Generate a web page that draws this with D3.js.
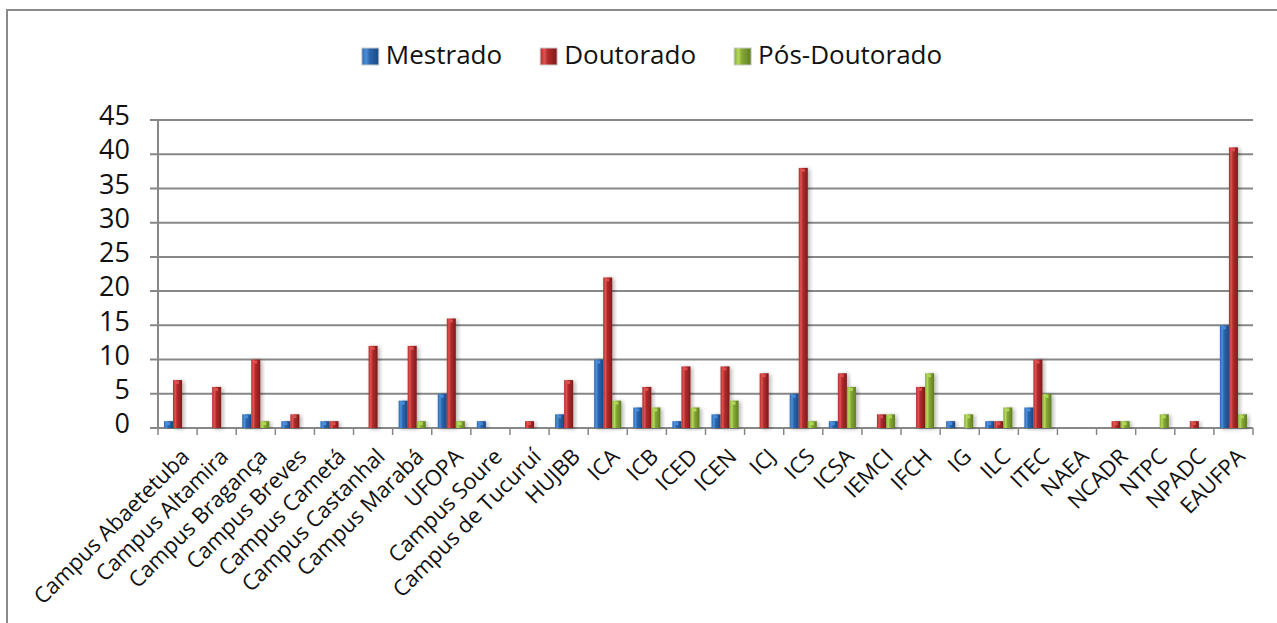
<!DOCTYPE html>
<html>
<head>
<meta charset="utf-8">
<script src="https://cdn.jsdelivr.net/npm/d3@7"></script>
<style>
  body { margin: 0; background: #fff; }
  svg { display: block; font-family: "Open Sans", sans-serif; }
</style>
</head>
<body>
<svg id="chart" width="1277" height="623"></svg>
<script>
// data
var categories = ["Campus Abaetetuba", "Campus Altamira", "Campus Bragança", "Campus Breves",
    "Campus Cametá", "Campus Castanhal", "Campus Marabá", "UFOPA", "Campus Soure",
    "Campus de Tucuruí", "HUJBB", "ICA", "ICB", "ICED", "ICEN", "ICJ", "ICS", "ICSA",
    "IEMCI", "IFCH", "IG", "ILC", "ITEC", "NAEA", "NCADR", "NTPC", "NPADC", "EAUFPA"];
var seriesNames = ["Mestrado", "Doutorado", "Pós-Doutorado"];
var mestrado     = [1, 0, 2, 1, 1, 0, 4, 5, 1, 0, 2, 10, 3, 1, 2, 0, 5, 1, 0, 0, 1, 1, 3, 0, 0, 0, 0, 15];
var doutorado    = [7, 6, 10, 2, 1, 12, 12, 16, 0, 1, 7, 22, 6, 9, 9, 8, 38, 8, 2, 6, 0, 1, 10, 0, 1, 0, 1, 41];
var posDoutorado = [0, 0, 1, 0, 0, 0, 1, 1, 0, 0, 0, 4, 3, 3, 4, 0, 1, 6, 2, 8, 2, 3, 5, 0, 1, 2, 0, 2];
var yTicks = [0, 5, 10, 15, 20, 25, 30, 35, 40, 45];

var seriesValues = [mestrado, doutorado, posDoutorado];
// colours: [dark edge, main, light]
var palette = [
    ["#1c4a84", "#2c66ad", "#4d8fdc"],
    ["#7f1b1b", "#b02c2c", "#e05252"],
    ["#5f7d22", "#86a938", "#b6d95a"]
];

var svg = d3.select('#chart');
var plotLeft = 158, plotRight = 1253, plotTop = 120, plotBottom = 428;

// outer frame (runs off the right and bottom edges)
svg.append('path')
    .attr('d', 'M7,640 L7,10 L1290,10')
    .attr('fill', 'none')
    .attr('stroke', '#8a8a8a')
    .attr('stroke-width', 2);

var defs = svg.append('defs');
var shadow = defs.append('filter').attr('id', 'shadow')
    .attr('x', '-50%').attr('y', '-10%').attr('width', '200%').attr('height', '120%');
shadow.append('feDropShadow')
    .attr('dx', 2).attr('dy', 1).attr('stdDeviation', 2)
    .attr('flood-color', '#000').attr('flood-opacity', 0.3);

palette.forEach(function(c, i) {
    var g = defs.append('linearGradient').attr('id', 'grad' + i)
        .attr('x1', '0%').attr('x2', '100%').attr('y1', '0%').attr('y2', '0%');
    g.append('stop').attr('offset', '0%').attr('stop-color', c[1]);
    g.append('stop').attr('offset', '25%').attr('stop-color', c[2]);
    g.append('stop').attr('offset', '45%').attr('stop-color', c[1]);
    g.append('stop').attr('offset', '100%').attr('stop-color', c[0]);
});

var x0 = d3.scaleBand()
    .domain(categories)
    .range([plotLeft, plotRight])
    .padding(0);

var x1 = d3.scaleBand()
    .domain(d3.range(seriesNames.length))
    .range([6, x0.bandwidth() - 6])
    .padding(0);

var y = d3.scaleLinear()
    .domain([0, 45])
    .range([plotBottom, plotTop]);

// gridlines and y labels
var yAxis = svg.append('g').attr('class', 'y-axis');
yAxis.selectAll('line.grid')
    .data(yTicks)
    .enter()
    .append('line')
    .attr('class', 'grid')
    .attr('x1', plotLeft - 8)
    .attr('x2', plotRight)
    .attr('y1', function(d) { return y(d); })
    .attr('y2', function(d) { return y(d); })
    .attr('stroke', '#878787')
    .attr('stroke-width', 2);

yAxis.append('line')
    .attr('x1', plotLeft).attr('x2', plotLeft)
    .attr('y1', plotTop).attr('y2', plotBottom)
    .attr('stroke', '#878787')
    .attr('stroke-width', 2);

yAxis.selectAll('text')
    .data(yTicks)
    .enter()
    .append('text')
    .attr('x', 130)
    .attr('y', function(d) { return y(d) - 2; })
    .attr('text-anchor', 'end')
    .attr('dominant-baseline', 'middle')
    .attr('font-size', 27)
    .attr('fill', '#111')
    .text(function(d) { return d; });

// x ticks at band edges
var edges = categories.map(function(c) { return x0(c); }).concat([plotRight]);
svg.append('g').selectAll('line')
    .data(edges)
    .enter()
    .append('line')
    .attr('x1', function(d) { return d; })
    .attr('x2', function(d) { return d; })
    .attr('y1', plotBottom)
    .attr('y2', plotBottom + 7)
    .attr('stroke', '#878787')
    .attr('stroke-width', 1.5);

// bars
var groups = svg.append('g').selectAll('g')
    .data(categories)
    .enter()
    .append('g')
    .attr('transform', function(d) { return 'translate(' + x0(d) + ',0)'; });

groups.selectAll('g.bar')
    .data(function(d, ci) {
        return seriesValues.map(function(vals, si) { return { s: si, v: vals[ci] }; })
            .filter(function(b) { return b.v > 0; });
    })
    .enter()
    .append('g')
    .attr('class', 'bar')
    .each(function(d) {
        var g = d3.select(this);
        var bx = x1(d.s), bw = x1.bandwidth();
        g.append('rect')
            .attr('x', bx)
            .attr('y', y(d.v))
            .attr('width', bw)
            .attr('height', plotBottom - y(d.v))
            .attr('fill', 'url(#grad' + d.s + ')')
            .attr('filter', 'url(#shadow)');
        // small highlight on top of the bar
        g.append('rect')
            .attr('x', bx + 2)
            .attr('y', y(d.v) + 1)
            .attr('width', 4)
            .attr('height', 3)
            .attr('fill', palette[d.s][2])
            .attr('opacity', 0.9);
    });

// x labels
svg.append('g').selectAll('text')
    .data(categories)
    .enter()
    .append('text')
    .attr('transform', function(d) {
        return 'translate(' + (x0(d) + x0.bandwidth() / 2 + 13) + ',458) rotate(-45)';
    })
    .attr('text-anchor', 'end')
    .attr('font-size', 22)
    .attr('fill', '#111')
    .text(function(d) { return d; });

// legend
var legend = svg.append('g');
var lx = 0;
seriesNames.forEach(function(name, i) {
    var item = legend.append('g').attr('transform', 'translate(' + lx + ',0)');
    item.append('rect')
        .attr('x', 0).attr('y', 48)
        .attr('width', 17).attr('height', 17)
        .attr('fill', 'url(#grad' + i + ')')
        .attr('stroke', '#ccc')
        .attr('stroke-width', 1);
    var t = item.append('text')
        .attr('x', 24)
        .attr('y', 57)
        .attr('dominant-baseline', 'middle')
        .attr('font-size', 26)
        .attr('fill', '#111')
        .text(name);
    lx += 24 + t.node().getComputedTextLength() + 38;
});
lx -= 38;
legend.attr('transform', 'translate(' + (652 - lx / 2) + ',0)');
</script>
</body>
</html>
